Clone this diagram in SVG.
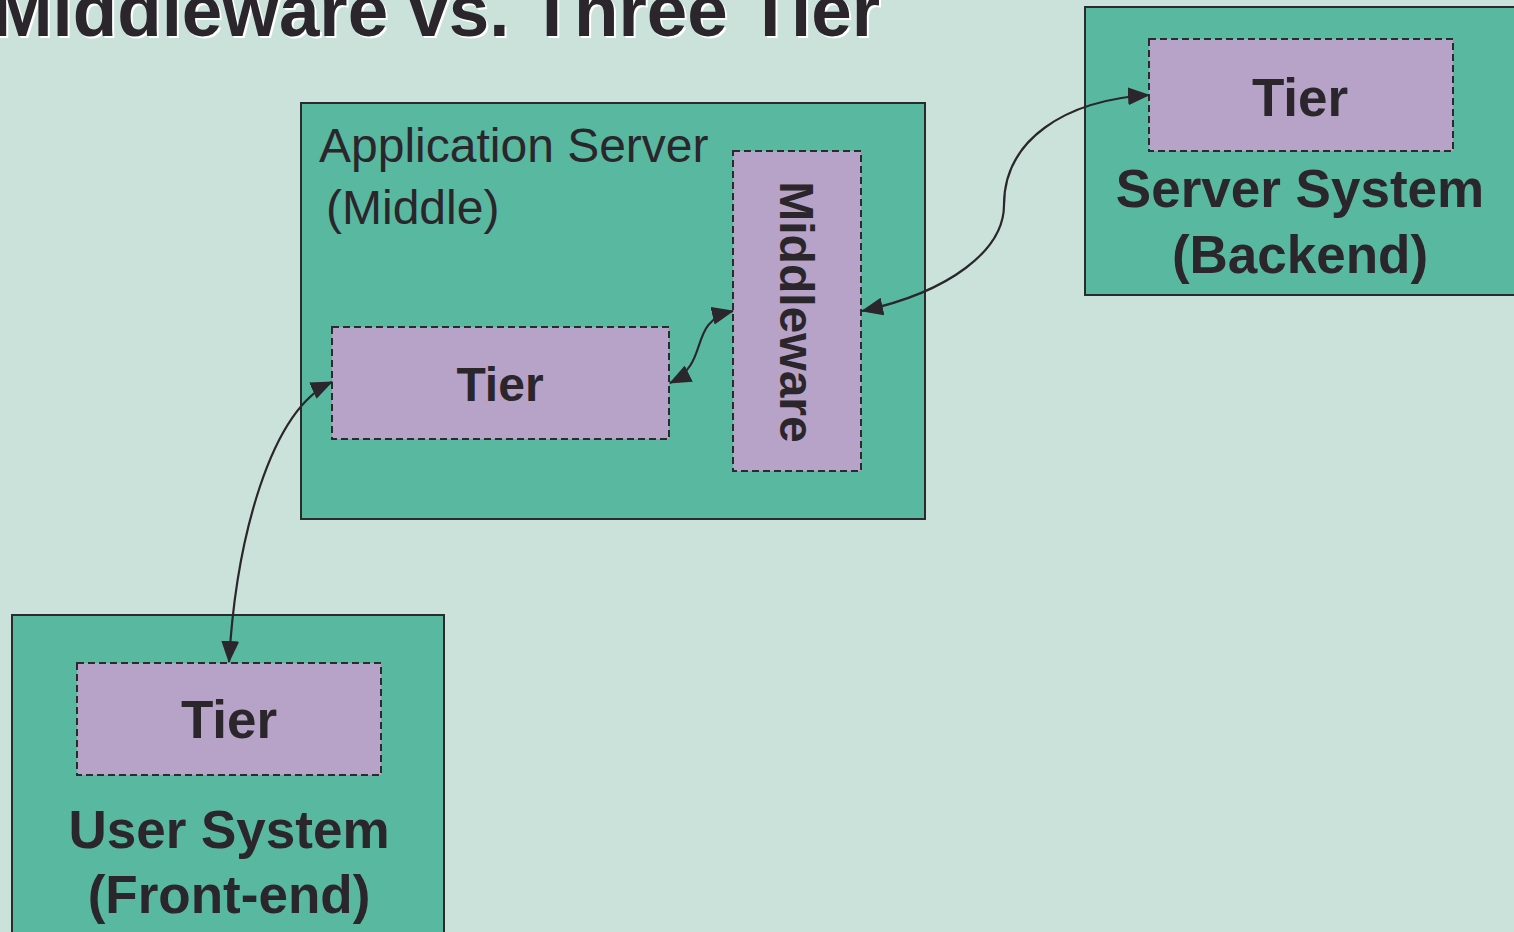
<svg xmlns="http://www.w3.org/2000/svg" width="1514" height="932" viewBox="0 0 1514 932">
<defs>
<style>
.box{fill:#59b8a0;stroke:#2b2a2d;stroke-width:2}
.tier{fill:#b8a3c8;stroke:#2b2a2d;stroke-width:2;stroke-dasharray:7 4}
.b{font-family:"Liberation Sans",Arial,sans-serif;font-weight:bold;font-size:48px;fill:#2b262b;text-anchor:middle}
.bl{font-size:53px}
.r{font-family:"Liberation Sans",Arial,sans-serif;font-size:48px;fill:#2b262b}
.c{fill:none;stroke:#2b262b;stroke-width:2.2}
</style>
<marker id="ah" viewBox="0 0 22 18" refX="21" refY="9" markerWidth="22" markerHeight="18" markerUnits="userSpaceOnUse" orient="auto-start-reverse">
<path d="M0,0 L22,9 L0,18 Z" fill="#2b262b"/>
</marker>
</defs>
<rect width="1514" height="932" fill="#cbe2da"/>
<g id="title">
<text x="-6" y="38" font-family="Liberation Sans,Arial,sans-serif" font-weight="bold" font-size="74" fill="#ffffff" textLength="888" lengthAdjust="spacingAndGlyphs">Middleware vs. Three Tier</text>
<text x="-8" y="36" font-family="Liberation Sans,Arial,sans-serif" font-weight="bold" font-size="74" fill="#2b262b" textLength="888" lengthAdjust="spacingAndGlyphs">Middleware vs. Three Tier</text>
</g>
<g id="app-server">
<rect class="box" x="301" y="103" width="624" height="416"/>
<text class="r" x="319" y="162">Application Server</text>
<text class="r" x="326" y="224">(Middle)</text>
</g>
<g id="middle-tier">
<rect class="tier" x="332" y="327" width="337" height="112"/>
<text class="b" x="500" y="401">Tier</text>
</g>
<g id="middleware">
<rect class="tier" x="733" y="151" width="128" height="320"/>
<text class="b" transform="translate(797,312) rotate(90)" x="0" y="17">Middleware</text>
</g>
<g id="server-system">
<rect class="box" x="1085" y="7" width="440" height="288"/>
<rect class="tier" x="1149" y="39" width="304" height="112"/>
<text class="b bl" x="1300" y="116">Tier</text>
<text class="b bl" x="1300" y="207">Server System</text>
<text class="b bl" x="1300" y="273">(Backend)</text>
</g>
<g id="user-system">
<rect class="box" x="12" y="615" width="432" height="330"/>
<rect class="tier" x="77" y="663" width="304" height="112"/>
<text class="b bl" x="229" y="738">Tier</text>
<text class="b bl" x="229" y="848">User System</text>
<text class="b bl" x="229" y="913">(Front-end)</text>
</g>
<g id="connectors">
<path class="c" marker-start="url(#ah)" marker-end="url(#ah)" d="M332,382 C270,410 236,540 229,662"/>
<path class="c" marker-start="url(#ah)" marker-end="url(#ah)" d="M670,383 C712,362 686,322 733,311"/>
<path class="c" marker-start="url(#ah)" marker-end="url(#ah)" d="M862,311 C950,292 1004,250 1004,205 C1004,140 1065,100 1149,95"/>
</g>
</svg>
